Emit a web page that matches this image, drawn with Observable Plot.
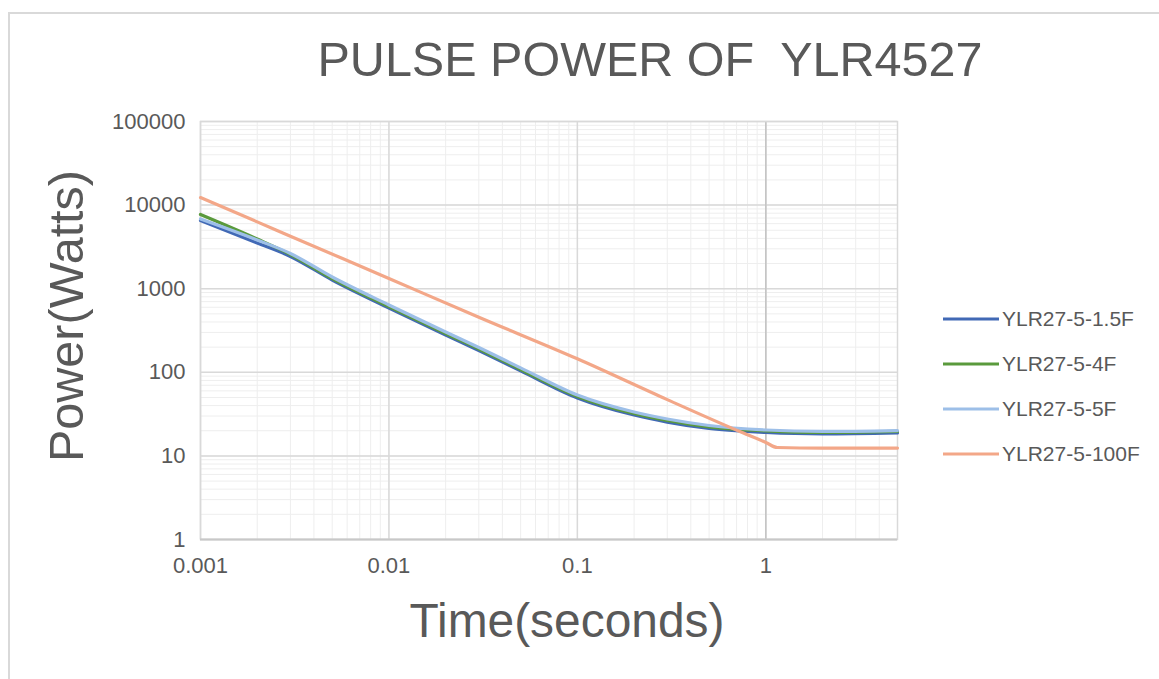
<!DOCTYPE html>
<html><head><meta charset="utf-8">
<script src="https://cdn.jsdelivr.net/npm/d3@7"></script>
<script src="https://cdn.jsdelivr.net/npm/@observablehq/plot@0.6"></script>
<style>
body{margin:0;background:#fff;}
#wrap{position:relative;width:1159px;height:679px;overflow:hidden;background:#fff}
#border{position:absolute;left:8px;top:12px;width:1300px;height:800px;border-left:2px solid #d9d9d9;border-top:2px solid #d9d9d9}
#chart{position:absolute;left:0;top:0}
</style></head><body>
<div id="wrap"><div id="border"></div><div id="chart"></div></div>
<script>
// ---- data ----
const seriesNames = ["YLR27-5-1.5F", "YLR27-5-4F", "YLR27-5-5F", "YLR27-5-100F"];
const seriesColors = ["#4169b5", "#5a9a3c", "#9dbfe8", "#f3a788"];
const times = [0.001, 0.002, 0.003, 0.005, 0.01, 0.02, 0.03, 0.05, 0.1, 0.2, 0.3, 0.5, 1, 2, 5];
const p15F = [6540, 3520, 2430, 1271, 588, 279, 182, 104, 49.3, 30.8, 25.4, 21.3, 19.05, 18.3, 18.8];
const p4F  = [7720, 3930, 2565, 1325, 612, 291, 190, 108, 51.4, 32.1, 26.5, 22.2, 19.9, 19.05, 19.6];
const p5F  = [6820, 3830, 2640, 1380, 638, 303, 198, 113, 53.5, 33.5, 27.6, 23.1, 20.4, 19.6, 20.1];
const times100F = [0.001, 0.002, 0.003, 0.01, 0.03, 0.1, 0.3, 0.75, 1, 1.15, 2, 5];
const p100F = [12300, 6300, 4250, 1325, 456, 145, 47.1, 19.0, 14.5, 12.6, 12.4, 12.4];
const xTicks = [0.001, 0.01, 0.1, 1];
const xTickLabels = ["0.001", "0.01", "0.1", "1"];
const yTicks = [1, 10, 100, 1000, 10000, 100000];
const yTickLabels = ["1", "10", "100", "1000", "10000", "100000"];
const titleText = "PULSE POWER OF\u00a0 YLR4527";
const xLabel = "Time(seconds)";
const yLabel = "Power(Watts)";

// ---- table ----
const rows = [];
[[p15F, times], [p4F, times], [p5F, times], [p100F, times100F]].forEach(([vals, ts], i) => {
  vals.forEach((v, j) => rows.push({series: seriesNames[i], t: ts[j], p: v}));
});

const xMinor = d3.scaleLog().domain([0.001, 5]).ticks();
const yMinor = d3.scaleLog().domain([1, 100000]).ticks();
const xLab = d => xTickLabels[xTicks.indexOf(d)];
const yLab = d => yTickLabels[yTicks.indexOf(d)];

const font = "'Liberation Sans', Arial, sans-serif";
const chart = Plot.plot({
  width: 1159, height: 679,
  marginLeft: 200, marginRight: 262, marginTop: 121, marginBottom: 140,
  style: {fontFamily: font, fontSize: "22px", color: "#595959", background: "transparent", overflow: "visible"},
  x: {type: "log", domain: [0.001, 5], axis: null},
  y: {type: "log", domain: [1, 100000], axis: null},
  color: {domain: seriesNames, range: seriesColors},
  marks: [
    Plot.gridX(xMinor, {stroke: "#eeeeee", strokeOpacity: 1, strokeWidth: 1}),
    Plot.gridY(yMinor, {stroke: "#eeeeee", strokeOpacity: 1, strokeWidth: 1}),
    Plot.gridX(xTicks, {stroke: "#d9d9d9", strokeOpacity: 1, strokeWidth: 1.5}),
    Plot.gridY(yTicks, {stroke: "#d9d9d9", strokeOpacity: 1, strokeWidth: 1.5}),
    Plot.ruleX([1], {stroke: "#c4c4c4", strokeWidth: 1.5}),
    Plot.frame({stroke: "#d9d9d9", strokeWidth: 1.5}),
    Plot.ruleY([1], {stroke: "#c8c8c8", strokeWidth: 2}),
    Plot.text(xTicks, {x: d => d, text: xLab, frameAnchor: "bottom", dy: 33, fill: "#595959", fontSize: 22, textAnchor: "middle"}),
    Plot.text(yTicks, {y: d => d, text: yLab, frameAnchor: "left", dx: -15, fill: "#595959", fontSize: 22, textAnchor: "end"}),
    Plot.line(rows, {x: "t", y: "p", z: "series", stroke: "series", strokeWidth: 3.2, curve: "monotone-x"})
  ]
});
document.getElementById("chart").appendChild(chart);

// ---- titles & legend ----
const svg = d3.select(chart);
const g = svg.append("g").attr("font-family", font).attr("fill", "#595959");
g.append("text").attr("x", 650).attr("y", 76).attr("text-anchor", "middle")
  .attr("font-size", 48).attr("textLength", 665).attr("lengthAdjust", "spacingAndGlyphs").text(titleText);
g.append("text").attr("x", 567).attr("y", 637).attr("text-anchor", "middle")
  .attr("font-size", 48).attr("textLength", 315).attr("lengthAdjust", "spacingAndGlyphs").text(xLabel);
g.append("text").attr("transform", "translate(83,316) rotate(-90)").attr("text-anchor", "middle")
  .attr("font-size", 48).attr("textLength", 292).attr("lengthAdjust", "spacingAndGlyphs").text(yLabel);

const legendY = [319, 364, 409, 454];
seriesNames.forEach((name, i) => {
  g.append("line").attr("x1", 943).attr("x2", 999).attr("y1", legendY[i]).attr("y2", legendY[i])
    .attr("stroke", seriesColors[i]).attr("stroke-width", 3.2);
  g.append("text").attr("x", 1002).attr("y", legendY[i] + 7).attr("text-anchor", "start")
    .attr("font-size", 21).text(name);
});
</script>
</body></html>
